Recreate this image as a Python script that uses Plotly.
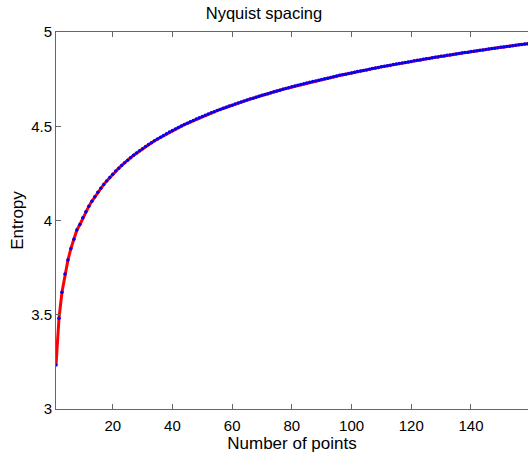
import plotly.graph_objects as go

n_points = list(range(1, 161))
entropy = [
    3.233, 3.481, 3.619, 3.716, 3.790, 3.852, 3.900, 3.950, 3.979, 4.014,
    4.046, 4.075, 4.102, 4.126, 4.150, 4.171, 4.191, 4.210, 4.228, 4.246,
    4.262, 4.277, 4.292, 4.307, 4.320, 4.333, 4.346, 4.358, 4.370, 4.381,
    4.392, 4.403, 4.413, 4.423, 4.432, 4.442, 4.451, 4.460, 4.469, 4.477,
    4.485, 4.493, 4.501, 4.509, 4.516, 4.524, 4.531, 4.538, 4.545, 4.552,
    4.558, 4.565, 4.571, 4.577, 4.583, 4.589, 4.595, 4.601, 4.607, 4.612,
    4.618, 4.623, 4.629, 4.634, 4.639, 4.644, 4.649, 4.654, 4.659, 4.664,
    4.669, 4.673, 4.678, 4.683, 4.687, 4.691, 4.696, 4.700, 4.704, 4.709,
    4.713, 4.717, 4.721, 4.725, 4.729, 4.733, 4.737, 4.740, 4.744, 4.748,
    4.752, 4.755, 4.759, 4.762, 4.766, 4.770, 4.773, 4.776, 4.780, 4.783,
    4.786, 4.790, 4.793, 4.796, 4.799, 4.803, 4.806, 4.809, 4.812, 4.815,
    4.818, 4.821, 4.824, 4.827, 4.830, 4.833, 4.836, 4.838, 4.841, 4.844,
    4.847, 4.850, 4.852, 4.855, 4.858, 4.860, 4.863, 4.866, 4.868, 4.871,
    4.873, 4.876, 4.878, 4.881, 4.883, 4.886, 4.888, 4.891, 4.893, 4.896,
    4.898, 4.900, 4.903, 4.905, 4.907, 4.910, 4.912, 4.914, 4.916, 4.919,
    4.921, 4.923, 4.925, 4.927, 4.930, 4.932, 4.934, 4.936, 4.938, 4.940,
]
x_ticks = [20, 40, 60, 80, 100, 120, 140]
y_ticks = [3, 3.5, 4, 4.5, 5]
y_tick_labels = ["3", "3.5", "4", "4.5", "5"]

fig = go.Figure()
fig.add_trace(go.Scatter(
    x=n_points, y=entropy, mode="lines+markers",
    line=dict(color="#ff0000", width=3),
    marker=dict(color="#0000ff", size=3.5, line=dict(width=0)),
    showlegend=False, cliponaxis=True,
))

axis_common = dict(
    showline=True, linecolor="#666666", linewidth=1,
    ticks="inside", ticklen=5, tickcolor="#666666", tickwidth=1,
    showgrid=False, zeroline=False,
    tickfont=dict(family="Liberation Sans, Arial, sans-serif", size=15, color="#000"),
)

fig.update_layout(
    width=528, height=453,
    margin=dict(l=56, r=0, t=32, b=44),
    paper_bgcolor="white", plot_bgcolor="white",
    font=dict(family="Liberation Sans, Arial, sans-serif", color="#000"),
    title=dict(text="Nyquist spacing", x=0.5, xanchor="center", y=1 - 13 / 453, yanchor="middle",
               font=dict(size=16.5, color="#000")),
    xaxis=dict(range=[1, 159.1], tickvals=x_ticks, mirror="ticks", ticklabelstandoff=3,
               title=dict(text="Number of points", font=dict(size=17), standoff=7),
               **axis_common),
    yaxis=dict(range=[3, 5], tickvals=y_ticks, ticktext=y_tick_labels, mirror=False,
               title=dict(text="Entropy", font=dict(size=17), standoff=3),
               **axis_common),
)

fig.write_html("out.html")
